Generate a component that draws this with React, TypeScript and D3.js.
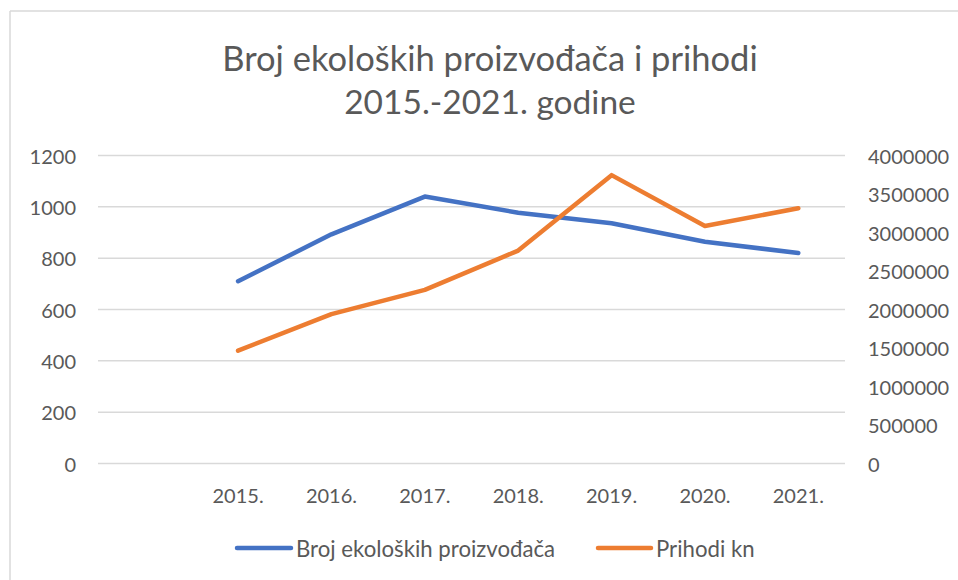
import React from "react";
import * as d3 from "d3";

const categories = ["", "2015.", "2016.", "2017.", "2018.", "2019.", "2020.", "2021."];
const years = ["2015.", "2016.", "2017.", "2018.", "2019.", "2020.", "2021."];
const producers = [710, 893, 1040, 977, 936, 864, 820];
const revenue = [1465000, 1940000, 2255000, 2765000, 3745000, 3085000, 3315000];
const leftTicks = [0, 200, 400, 600, 800, 1000, 1200];
const rightTicks = [0, 500000, 1000000, 1500000, 2000000, 2500000, 3000000, 3500000, 4000000];
const titleLines = ["Broj ekoloških proizvođača i prihodi", "2015.-2021. godine"];
const seriesNames = ["Broj ekoloških proizvođača", "Prihodi kn"];

const W = 958;
const H = 580;
const FONT = "Lato, 'Open Sans', sans-serif";
const TEXT = "#595959";
const GRID = "#d9d9d9";
const BLUE = "#4472C4";
const ORANGE = "#ED7D31";

export default function App() {
  const x = d3.scaleBand<string>().domain(categories).range([98, 845]).padding(0);
  const yL = d3.scaleLinear().domain([0, 1200]).range([463.5, 155.5]);
  const yR = d3.scaleLinear().domain([0, 4000000]).range([463.5, 155.5]);
  const cx = (c: string) => (x(c) as number) + x.bandwidth() / 2;

  const lineL = d3
    .line<number>()
    .x((_, i) => cx(years[i]))
    .y((d) => yL(d));
  const lineR = d3
    .line<number>()
    .x((_, i) => cx(years[i]))
    .y((d) => yR(d));

  return (
    <svg
      width={W}
      height={H}
      style={{ position: "absolute", left: 0, top: 0, background: "#fff" }}
      fontFamily={FONT}
    >
      <rect x={0} y={0} width={W} height={H} fill="#fff" />
      <line x1={10} y1={11} x2={W} y2={11} stroke={GRID} strokeWidth={1.5} />
      <line x1={10} y1={11} x2={10} y2={H} stroke={GRID} strokeWidth={1.5} />

      {titleLines.map((t, i) => (
        <text
          key={i}
          x={490}
          y={57 + i * 44}
          textAnchor="middle"
          dominantBaseline="central"
          fontSize={i === 0 ? 34.5 : 33.5}
          fill={TEXT}
        >
          {t}
        </text>
      ))}

      {leftTicks.map((t) => (
        <line key={"g" + t} x1={98} x2={845} y1={yL(t)} y2={yL(t)} stroke={GRID} strokeWidth={1.5} />
      ))}

      {leftTicks.map((t) => (
        <text
          key={"l" + t}
          x={76}
          y={yL(t)}
          textAnchor="end"
          dominantBaseline="central"
          fontSize={20}
          fill={TEXT}
        >
          {t}
        </text>
      ))}

      {rightTicks.map((t) => (
        <text
          key={"r" + t}
          x={868}
          y={yR(t)}
          textAnchor="start"
          dominantBaseline="central"
          fontSize={20}
          fill={TEXT}
        >
          {t}
        </text>
      ))}

      {years.map((c) => (
        <text
          key={"x" + c}
          x={cx(c)}
          y={495}
          textAnchor="middle"
          dominantBaseline="central"
          fontSize={20}
          fill={TEXT}
        >
          {c}
        </text>
      ))}

      <path d={lineL(producers) || ""} fill="none" stroke={BLUE} strokeWidth={4.5} strokeLinecap="round" strokeLinejoin="round" />
      <path d={lineR(revenue) || ""} fill="none" stroke={ORANGE} strokeWidth={4.5} strokeLinecap="round" strokeLinejoin="round" />

      <line x1={237} x2={291} y1={548} y2={548} stroke={BLUE} strokeWidth={4.5} strokeLinecap="round" />
      <text x={296} y={548} dominantBaseline="central" fontSize={22.2} fill={TEXT}>
        {seriesNames[0]}
      </text>
      <line x1={598} x2={651} y1={548} y2={548} stroke={ORANGE} strokeWidth={4.5} strokeLinecap="round" />
      <text x={656} y={548} dominantBaseline="central" fontSize={22.2} fill={TEXT}>
        {seriesNames[1]}
      </text>
    </svg>
  );
}
